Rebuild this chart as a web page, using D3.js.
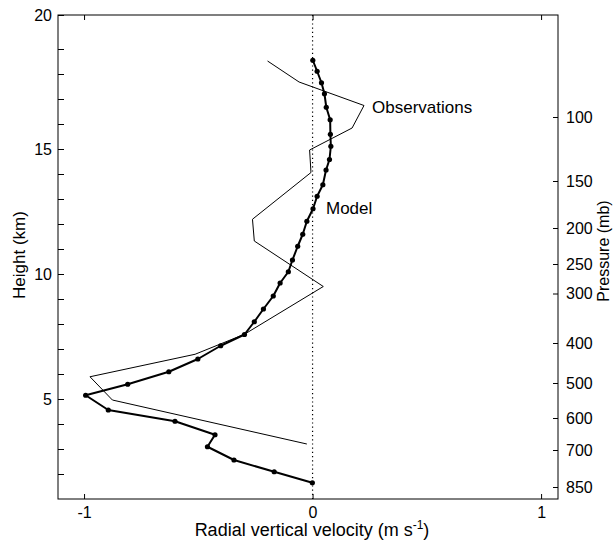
<!DOCTYPE html>
<html>
<head>
<meta charset="utf-8">
<script src="https://cdn.jsdelivr.net/npm/d3@7/dist/d3.min.js"></script>
<style>
  html, body { margin: 0; padding: 0; background: #fff; }
  svg { display: block; font-family: "Liberation Sans", Arial, Helvetica, sans-serif; }
</style>
</head>
<body>
<svg id="chart" width="613" height="544"></svg>
<script>
// Radial vertical velocity profiles (m/s) against height (km)
const modelVelocity = [0.001, 0.020, 0.039, 0.052, 0.060, 0.077, 0.078, 0.080, 0.074, 0.059,
  0.045, 0.020, 0.002, -0.025, -0.043, -0.065, -0.088, -0.106, -0.142, -0.172,
  -0.215, -0.255, -0.298, -0.402, -0.502, -0.629, -0.809, -0.993, -0.894, -0.602,
  -0.427, -0.460, -0.344, -0.168, -0.001];
const modelHeight = [18.55, 18.11, 17.65, 17.21, 16.67, 16.17, 15.59, 15.11, 14.58, 14.16,
  13.57, 13.11, 12.61, 12.11, 11.59, 11.11, 10.56, 10.09, 9.64, 9.12,
  8.60, 8.09, 7.58, 7.13, 6.60, 6.09, 5.59, 5.15, 4.56, 4.11,
  3.57, 3.09, 2.56, 2.09, 1.65];

const obsVelocity = [-0.197, -0.059, 0.225, 0.173, -0.013, -0.007, -0.263, -0.255, 0.047,
  -0.298, -0.514, -0.974, -0.876, -0.025];
const obsHeight = [18.52, 17.68, 16.74, 15.84, 14.96, 14.06, 12.19, 11.32, 9.50,
  7.59, 6.79, 5.89, 4.96, 3.20];

// Axis ticks
const velocityTicks = [-1, 0, 1];
const heightLabels = [5, 10, 15, 20];
const heightMinor = [2, 3, 4, 6, 7, 8, 9, 11, 12, 13, 14, 16, 17, 18, 19];
const pressureLevels = [100, 150, 200, 250, 300, 400, 500, 600, 700, 850];
const pressureHeights = [16.28, 13.72, 11.84, 10.40, 9.22, 7.24, 5.64, 4.24, 2.96, 1.48];

const svg = d3.select("#chart");
const plotLeft = 58, plotRight = 558, plotTop = 15, plotBottom = 499;

const x = d3.scaleLinear().domain([-1.114, 1.074]).range([plotLeft, plotRight]);
const y = d3.scaleLinear().domain([1, 19, 20]).range([plotBottom, 49, plotTop]);
// Pressure axis: each level sits at its standard height
const yPressure = d3.scaleLinear().domain(pressureLevels).range(pressureHeights.map(h => y(h)));

const fontSize = 16;
const plain = d => String(d);

// Frame
svg.append("rect")
  .attr("x", plotLeft).attr("y", plotTop)
  .attr("width", plotRight - plotLeft).attr("height", plotBottom - plotTop)
  .attr("fill", "none").attr("stroke", "#000").attr("stroke-width", 1);

// Zero line
svg.append("line")
  .attr("x1", x(0)).attr("x2", x(0))
  .attr("y1", plotTop).attr("y2", plotBottom)
  .attr("stroke", "#000").attr("stroke-width", 1.2)
  .attr("stroke-dasharray", "1.2,3");

// Bottom and top axes (ticks point inward)
const xAxisBottom = svg.append("g")
  .attr("transform", `translate(0,${plotBottom})`)
  .call(d3.axisBottom(x).tickValues(velocityTicks).tickSize(-5).tickPadding(8)
    .tickFormat(plain));
const xAxisTop = svg.append("g")
  .attr("transform", `translate(0,${plotTop})`)
  .call(d3.axisTop(x).tickValues(velocityTicks).tickSize(-5).tickFormat(""));

// Left axis: labelled and minor ticks
const yAxisLeft = svg.append("g")
  .attr("transform", `translate(${plotLeft},0)`)
  .call(d3.axisLeft(y).tickValues(heightLabels).tickSize(-6).tickPadding(6)
    .tickFormat(plain));
const yAxisMinor = svg.append("g")
  .attr("transform", `translate(${plotLeft},0)`)
  .call(d3.axisLeft(y).tickValues(heightMinor).tickSize(-6).tickFormat(""));

// Right axis: pressure levels
const yAxisRight = svg.append("g")
  .attr("transform", `translate(${plotRight},0)`)
  .call(d3.axisRight(yPressure).tickValues(pressureLevels).tickSize(-5).tickPadding(8)
    .tickFormat(plain));

[xAxisBottom, xAxisTop, yAxisLeft, yAxisMinor, yAxisRight].forEach(g => {
  g.select(".domain").remove();
  g.selectAll(".tick line").attr("stroke", "#000").attr("stroke-width", 1);
  g.selectAll(".tick text")
    .attr("fill", "#000")
    .attr("font-size", fontSize)
    .attr("font-family", "'Liberation Sans', Arial, Helvetica, sans-serif");
});

// Observations: thin line
const line = d3.line().x(d => x(d[0])).y(d => y(d[1]));
const obs = obsVelocity.map((v, i) => [v, obsHeight[i]]);
svg.append("path")
  .datum(obs)
  .attr("d", line)
  .attr("fill", "none").attr("stroke", "#000").attr("stroke-width", 1)
  .attr("stroke-linejoin", "miter");

// Model: thick line with dots at each level
const model = modelVelocity.map((v, i) => [v, modelHeight[i]]);
svg.append("path")
  .datum(model)
  .attr("d", line)
  .attr("fill", "none").attr("stroke", "#000").attr("stroke-width", 2)
  .attr("stroke-linejoin", "round");
svg.append("g").selectAll("circle")
  .data(model).join("circle")
  .attr("cx", d => x(d[0])).attr("cy", d => y(d[1]))
  .attr("r", 2.6).attr("fill", "#000");

// Series labels
svg.append("text")
  .attr("x", 372).attr("y", 113)
  .attr("font-size", 17).attr("fill", "#000")
  .text("Observations");
svg.append("text")
  .attr("x", 326).attr("y", 214)
  .attr("font-size", 17).attr("fill", "#000")
  .text("Model");

// Axis titles
svg.append("text")
  .attr("transform", "translate(25,255) rotate(-90)")
  .attr("text-anchor", "middle")
  .attr("font-size", 17).attr("fill", "#000")
  .text("Height (km)");
svg.append("text")
  .attr("transform", "translate(609,251) rotate(-90)")
  .attr("text-anchor", "middle")
  .attr("font-size", 16).attr("fill", "#000")
  .text("Pressure (mb)");

const xTitle = svg.append("text")
  .attr("x", 312).attr("y", 536)
  .attr("text-anchor", "middle")
  .attr("font-size", 18).attr("fill", "#000");
xTitle.append("tspan").text("Radial vertical velocity (m s");
xTitle.append("tspan").attr("font-size", 12).attr("dy", -7).text("-1");
xTitle.append("tspan").attr("dy", 7).text(")");
</script>
</body>
</html>
